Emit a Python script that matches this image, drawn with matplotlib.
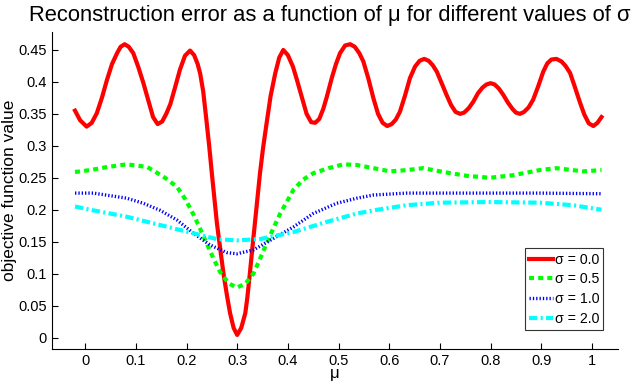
import matplotlib
matplotlib.use("Agg")
import matplotlib.pyplot as plt

plt.rcParams['font.family'] = ['Liberation Sans', 'DejaVu Sans']

# sigma = 0.0
mu_red = [-0.02, -0.01, 0.003, 0.013, 0.023, 0.033, 0.043, 0.053, 0.063, 0.07, 0.078, 0.086,
          0.095, 0.105, 0.115, 0.125, 0.134, 0.143, 0.152, 0.16, 0.168, 0.178, 0.187,
          0.197, 0.207, 0.215, 0.222, 0.227, 0.233, 0.24, 0.245, 0.25, 0.255, 0.26,
          0.267, 0.273, 0.28, 0.286, 0.293, 0.30, 0.308, 0.316, 0.32, 0.325, 0.33,
          0.335, 0.34, 0.345, 0.351, 0.358, 0.366, 0.375, 0.383, 0.391, 0.40, 0.41,
          0.418, 0.428, 0.437, 0.446, 0.454, 0.462, 0.47, 0.477, 0.487, 0.495, 0.503,
          0.513, 0.523, 0.532, 0.541, 0.549, 0.559, 0.569, 0.578, 0.587, 0.596, 0.605,
          0.613, 0.621, 0.631, 0.641, 0.651, 0.66, 0.669, 0.678, 0.686, 0.694, 0.703,
          0.713, 0.722, 0.731, 0.74, 0.748, 0.757, 0.766, 0.775, 0.784, 0.792, 0.80,
          0.808, 0.816, 0.825, 0.834, 0.843, 0.85, 0.858, 0.866, 0.875, 0.884, 0.894,
          0.904, 0.912, 0.92, 0.93, 0.94, 0.948, 0.957, 0.966, 0.976, 0.985, 0.994,
          1.003, 1.011, 1.019]
val_red = [0.355, 0.340, 0.330, 0.336, 0.351, 0.375, 0.403, 0.428, 0.445, 0.455, 0.459, 0.455,
           0.445, 0.423, 0.398, 0.370, 0.345, 0.334, 0.338, 0.350, 0.365, 0.393, 0.419,
           0.441, 0.449, 0.442, 0.428, 0.413, 0.385, 0.335, 0.298, 0.257, 0.218, 0.179,
           0.136, 0.100, 0.065, 0.038, 0.015, 0.004, 0.015, 0.038, 0.062, 0.100, 0.140,
           0.179, 0.218, 0.257, 0.296, 0.335, 0.378, 0.413, 0.438, 0.450, 0.442, 0.424,
           0.403, 0.375, 0.350, 0.337, 0.336, 0.342, 0.358, 0.377, 0.407, 0.428, 0.445,
           0.457, 0.459, 0.455, 0.445, 0.432, 0.405, 0.374, 0.350, 0.336, 0.331, 0.334,
           0.341, 0.353, 0.378, 0.406, 0.424, 0.433, 0.436, 0.433, 0.426, 0.416, 0.399,
           0.380, 0.364, 0.353, 0.350, 0.352, 0.359, 0.369, 0.382, 0.391, 0.396, 0.398,
           0.396, 0.390, 0.380, 0.368, 0.358, 0.352, 0.350, 0.353, 0.360, 0.372, 0.393,
           0.416, 0.429, 0.435, 0.436, 0.432, 0.425, 0.414, 0.393, 0.369, 0.349, 0.335,
           0.331, 0.336, 0.345]

# sigma = 0.5
mu_green = [-0.02, 0.01, 0.045, 0.082, 0.122, 0.154, 0.181, 0.198, 0.214, 0.227, 0.24,
            0.253, 0.266, 0.283, 0.299, 0.316, 0.332, 0.345, 0.358, 0.372, 0.385, 0.411,
            0.43, 0.45, 0.48, 0.51, 0.536, 0.569, 0.602, 0.635, 0.667, 0.707, 0.753,
            0.799, 0.845, 0.897, 0.93, 0.983, 1.019]
val_green = [0.259, 0.262, 0.267, 0.271, 0.267, 0.252, 0.236, 0.216, 0.192, 0.170, 0.147,
             0.124, 0.103, 0.085, 0.078, 0.084, 0.100, 0.123, 0.147, 0.172, 0.194, 0.231,
             0.247, 0.257, 0.265, 0.271, 0.270, 0.265, 0.260, 0.262, 0.265, 0.259, 0.253,
             0.250, 0.254, 0.262, 0.265, 0.260, 0.262]

# sigma = 1.0
mu_blue = [-0.02, 0.016, 0.049, 0.082, 0.115, 0.148, 0.181, 0.214, 0.246, 0.279, 0.299,
           0.332, 0.365, 0.411, 0.45, 0.496, 0.536, 0.569, 0.634, 0.766, 0.897, 1.019]
val_blue = [0.226, 0.226, 0.222, 0.218, 0.210, 0.199, 0.184, 0.163, 0.145, 0.133, 0.131,
            0.137, 0.152, 0.173, 0.194, 0.210, 0.218, 0.223, 0.226, 0.226, 0.226, 0.225]

# sigma = 2.0
mu_cyan = [-0.02, 0.016, 0.082, 0.148, 0.214, 0.26, 0.299, 0.345, 0.411, 0.477, 0.536,
           0.569, 0.634, 0.70, 0.799, 0.897, 0.963, 1.019]
val_cyan = [0.205, 0.199, 0.189, 0.176, 0.163, 0.154, 0.152, 0.154, 0.165, 0.181, 0.194,
            0.199, 0.207, 0.211, 0.212, 0.211, 0.207, 0.200]

labels = ['σ = 0.0', 'σ = 0.5', 'σ = 1.0', 'σ = 2.0']
xticks = [0, 0.1, 0.2, 0.3, 0.4, 0.5, 0.6, 0.7, 0.8, 0.9, 1]
xticklabels = ['0', '0.1', '0.2', '0.3', '0.4', '0.5', '0.6', '0.7', '0.8', '0.9', '1']
yticks = [0, 0.05, 0.1, 0.15, 0.2, 0.25, 0.3, 0.35, 0.4, 0.45]
yticklabels = ['0', '0.05', '0.1', '0.15', '0.2', '0.25', '0.3', '0.35', '0.4', '0.45']

fig = plt.figure(figsize=(6.4, 3.85), dpi=100)
ax = fig.add_axes([0.0808, 0.0935, 0.8844, 0.8242])

ax.plot(mu_red, val_red, color='#ff0000', lw=3.0, ls='-', label=labels[0])
ax.plot(mu_green, val_green, color='#00ff00', lw=3.0, ls=(0, (1.2, 1.0)), label=labels[1])
ax.plot(mu_blue, val_blue, color='#0000ff', lw=2.4, ls=(0, (0.4, 0.6)), label=labels[2])
ax.plot(mu_cyan, val_cyan, color='#00ffff', lw=3.0, ls=(0, (2.0, 0.8, 0.5, 0.8)), label=labels[3])

ax.set_xlim(-0.066, 1.051)
ax.set_ylim(-0.018, 0.4786)
ax.set_xticks(xticks)
ax.set_xticklabels(xticklabels)
ax.set_yticks(yticks)
ax.set_yticklabels(yticklabels)
ax.tick_params(direction='in', length=4, width=0.8, labelsize=10.5, colors='black')
ax.spines['top'].set_visible(False)
ax.spines['right'].set_visible(False)
for s in ('left', 'bottom'):
    ax.spines[s].set_linewidth(0.8)

ax.set_xlabel('μ', fontsize=12, labelpad=-1)
ax.set_ylabel('objective function value', fontsize=12.5, labelpad=1)
fig.text(29 / 640, 1 - 20.5 / 385,
         'Reconstruction error as a function of μ for different values of σ',
         fontsize=15.8, ha='left', va='baseline')

leg = ax.legend(loc='lower right', bbox_to_anchor=(0.9746, 0.06), borderaxespad=0,
                fontsize=10.2, handlelength=1.7, handletextpad=0.1, labelspacing=0.4,
                borderpad=0.3, fancybox=False, frameon=True)
leg.get_frame().set_edgecolor('black')
leg.get_frame().set_linewidth(0.8)

fig.savefig('out.png', dpi=100)
